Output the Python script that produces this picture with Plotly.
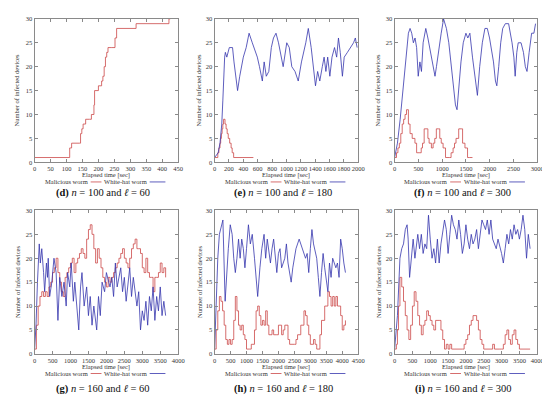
import plotly.graph_objects as go

W, H = 550, 397
RED = "#cc4747"
BLUE = "#3535ad"
SERIF = "Liberation Serif"

# ---------------- data ----------------
# (d) n=100, l=60
d_mal_t = [0, 110, 112, 116, 140, 144, 148, 152, 160, 172, 178, 186, 188, 200, 210, 214, 218, 222, 226, 230, 240, 252, 257, 318, 421, 425]
d_mal_v = [1, 3, 3, 4, 4, 6, 7, 8, 9, 9, 10, 12, 15, 16, 17, 18, 20, 22, 23, 24, 24, 26, 28, 29, 30, 30]
d_wh_t = []
d_wh_v = []

# (e) n=100, l=180
e_mal_t = [0, 45, 60, 75, 85, 95, 105, 115, 125, 145, 160, 175, 190, 210, 230, 245, 265, 540]
e_mal_v = [1, 2, 3, 4, 5, 6, 7, 8, 9, 8, 7, 6, 5, 4, 3, 2, 1, 1]
e_wh_t = [0, 50, 75, 100, 115, 125, 140, 150, 170, 205, 250, 270, 290, 320, 350, 380, 400, 440, 480, 525,
          570, 595, 625, 665, 690, 720, 755, 790, 820, 855, 890, 925, 955, 1005, 1040, 1075, 1120, 1165,
          1210, 1270, 1305, 1345, 1380, 1405, 1435, 1465, 1500, 1525, 1550, 1575, 1605, 1635, 1670, 1700,
          1725, 1750, 1780, 1805, 1850, 1890, 1935, 1960, 1985]
e_wh_v = [1, 2, 4, 8, 13, 18, 22, 23, 22, 24, 24, 21, 18, 15, 18, 21, 22, 24, 27, 25,
          23, 22, 20, 17, 21, 18, 19, 24, 26, 27, 25, 22, 20, 25, 24, 20, 19, 17,
          21, 25, 28, 24, 19, 16, 19, 17, 20, 22, 19, 22, 18, 22, 24, 22,
          26, 23, 18, 22, 23, 24, 25, 26, 24]

# (f) n=100, l=300
f_mal_t = [0, 40, 70, 100, 130, 160, 190, 220, 250, 290, 325, 370, 428, 463, 532, 560, 587, 622, 660, 700,
           726, 774, 810, 845, 878, 920, 950, 981, 1020, 1071, 1150, 1188, 1230, 1260, 1292, 1348, 1400,
           1430, 1480, 1534, 1580, 1638]
f_mal_v = [1, 2, 3, 4, 6, 8, 9, 10, 11, 8, 6, 5, 4, 2, 2, 3, 4, 7, 7, 5,
           4, 3, 4, 5, 7, 7, 5, 4, 3, 1, 1, 2, 3, 4, 5, 7, 7,
           4, 3, 1, 1, 1]
f_wh_t = [0, 60, 117, 173, 200, 242, 290, 325, 360, 395, 430, 463, 497, 532, 565, 600, 656, 700, 753, 800,
          850, 880, 920, 980, 1030, 1090, 1140, 1190, 1237, 1280, 1313, 1350, 1396, 1444, 1500, 1540, 1583,
          1638, 1690, 1742, 1790, 1845, 1900, 1950, 1997, 2040, 2080, 2121, 2150, 2190, 2232, 2274, 2329,
          2398, 2440, 2470, 2509, 2536, 2570, 2600, 2660, 2710, 2750, 2785, 2830, 2882, 2930, 2965]
f_wh_v = [1, 4, 9, 15, 18, 21, 27, 28, 27, 25, 26, 24, 18, 21, 19, 25, 28, 26, 23, 20,
          18, 20, 23, 27, 30, 28, 25, 20, 16, 12, 11, 16, 21, 25, 27, 26, 27,
          22, 18, 14, 20, 25, 28, 28, 26, 23, 21, 17, 16, 20, 25, 28, 29,
          29, 27, 25, 22, 18, 23, 25, 25, 23, 20, 19, 23, 27, 27, 29]

# (g) n=160, l=60
g_mal_t = [0, 50, 100, 150, 200, 250, 300, 350, 400, 450, 500, 550, 600, 650, 700, 750, 800, 850, 900, 950,
           1000, 1050, 1100, 1150, 1200, 1250, 1300, 1350, 1400, 1450, 1500, 1550, 1600, 1650, 1700, 1750,
           1800, 1850, 1900, 1950, 2000, 2050, 2100, 2150, 2200, 2250, 2300, 2350, 2400, 2450, 2500, 2550,
           2600, 2650, 2700, 2750, 2800, 2850, 2900, 2950, 3000, 3050, 3100, 3150, 3200, 3250, 3300, 3350,
           3400, 3450, 3500, 3550, 3600, 3650]
g_mal_v = [1, 6, 10, 12, 13, 12, 13, 12, 14, 15, 17, 18, 20, 17, 15, 13, 12, 16, 17, 18,
           19, 20, 17, 19, 20, 21, 22, 21, 20, 24, 26, 27, 25, 22, 19, 22,
           20, 18, 16, 15, 14, 16, 15, 16, 17, 18, 19, 20, 21, 22, 20, 19,
           18, 20, 22, 23, 24, 22, 22, 21, 18, 17, 20, 17, 16, 16, 13, 16,
           16, 17, 19, 17, 18, 16]
g_wh_t = [0, 40, 80, 130, 160, 200, 250, 280, 330, 360, 380, 420, 480, 540, 600, 650, 700, 760, 820, 880,
          920, 980, 1020, 1080, 1120, 1180, 1230, 1280, 1320, 1380, 1450, 1500, 1550, 1600, 1650, 1730,
          1780, 1830, 1880, 1950, 2000, 2100, 2150, 2200, 2250, 2300, 2400, 2450, 2500, 2550, 2600, 2650,
          2700, 2750, 2850, 2900, 2950, 3000, 3050, 3100, 3150, 3200, 3250, 3300, 3350, 3400, 3450, 3500,
          3550, 3600, 3650]
g_wh_v = [1, 6, 15, 23, 19, 22, 17, 13, 19, 16, 20, 12, 15, 20, 17, 7, 16, 12, 15, 10,
          17, 14, 19, 11, 15, 10, 5, 14, 17, 10, 14, 8, 12, 6, 10, 5,
          12, 8, 15, 13, 17, 14, 16, 12, 19, 14, 18, 13, 16, 11, 14, 18,
          12, 16, 10, 13, 5, 9, 7, 11, 6, 12, 9, 14, 7, 12, 9, 14,
          8, 11, 8]

# (h) n=160, l=180
h_mal_t = [0, 50, 100, 150, 200, 250, 300, 350, 400, 450, 500, 550, 600, 650, 700, 750, 800, 850, 900, 950,
           1000, 1100, 1150, 1200, 1250, 1300, 1350, 1400, 1450, 1500, 1550, 1600, 1650, 1700, 1800, 1850,
           1950, 2000, 2100, 2150, 2200, 2300, 2350, 2500, 2550, 2600, 2700, 2800, 2850, 2900, 2950, 3000,
           3100, 3150, 3200, 3300, 3350, 3450, 3550, 3600, 3650, 3700, 3750, 3800, 3850, 3950, 4000, 4050, 4100]
h_mal_v = [1, 5, 9, 12, 11, 9, 6, 3, 2, 3, 2, 3, 7, 12, 9, 6, 5, 6, 4, 3,
           1, 1, 2, 2, 5, 9, 10, 8, 6, 7, 6, 9, 6, 4, 5, 4,
           4, 6, 4, 5, 6, 3, 2, 2, 3, 4, 6, 9, 8, 6, 4, 2,
           3, 2, 1, 4, 7, 10, 13, 12, 10, 12, 10, 12, 10, 8, 5, 6, 7]
h_wh_t = [0, 60, 100, 150, 230, 260, 330, 380, 430, 490, 550, 600, 650, 700, 750, 800, 850, 900, 950, 1000,
          1060, 1120, 1180, 1250, 1300, 1350, 1420, 1480, 1550, 1600, 1650, 1750, 1800, 1850, 1950, 2000,
          2050, 2100, 2200, 2250, 2300, 2400, 2450, 2550, 2650, 2750, 2850, 2900, 2950, 3000, 3050, 3100,
          3200, 3250, 3300, 3350, 3400, 3450, 3550, 3600, 3650, 3700, 3800, 3850, 3900, 3950, 4000, 4050, 4100]
h_wh_v = [1, 15, 20, 25, 27, 28, 11, 17, 22, 27, 25, 20, 17, 20, 24, 20, 24, 22, 18, 22,
          27, 23, 25, 20, 15, 12, 18, 22, 25, 20, 24, 19, 22, 24, 17, 21,
          22, 18, 20, 23, 19, 15, 18, 22, 24, 22, 20, 21, 17, 22, 26, 23,
          20, 16, 12, 17, 21, 18, 13, 19, 16, 20, 18, 19, 16, 24, 22, 19, 17]

# (i) n=160, l=300
i_mal_t = [0, 50, 80, 110, 150, 200, 250, 300, 350, 400, 450, 500, 550, 600, 650, 700, 750, 800, 850, 900,
           950, 1000, 1050, 1100, 1150, 1250, 1300, 1350, 1400, 1450, 1500, 1550, 1600, 1900, 1950, 2000,
           2050, 2100, 2150, 2200, 2300, 2350, 2400, 2450, 2500, 2700, 2750, 2800, 2950, 3000, 3050, 3100,
           3150, 3200, 3250, 3300, 3350, 3400, 3450, 3500, 3800]
i_mal_v = [1, 2, 5, 10, 16, 14, 11, 8, 5, 3, 6, 10, 13, 11, 8, 6, 4, 6, 7, 9,
           8, 7, 6, 5, 7, 7, 5, 3, 1, 2, 1, 2, 1, 1, 2, 3,
           4, 6, 7, 8, 7, 5, 3, 2, 1, 1, 2, 1, 1, 1, 2, 4,
           5, 3, 2, 4, 5, 3, 2, 1, 1]
i_wh_t = [0, 80, 150, 200, 250, 300, 350, 380, 420, 470, 520, 570, 650, 700, 750, 800, 850, 900, 950, 1000,
          1050, 1100, 1150, 1200, 1250, 1300, 1400, 1450, 1500, 1550, 1600, 1650, 1700, 1750, 1800, 1850,
          1900, 1950, 2000, 2050, 2100, 2150, 2200, 2250, 2300, 2350, 2400, 2450, 2500, 2550, 2600, 2650,
          2700, 2750, 2850, 2900, 3000, 3050, 3100, 3150, 3200, 3250, 3300, 3350, 3400, 3450, 3500, 3550,
          3600, 3650, 3700, 3750, 3800]
i_wh_v = [1, 8, 20, 22, 23, 26, 27, 24, 16, 21, 24, 20, 25, 22, 25, 21, 23, 22, 29, 24,
          20, 22, 19, 24, 19, 23, 28, 26, 21, 25, 29, 27, 26, 24, 28, 25,
          21, 23, 27, 24, 22, 25, 23, 24, 26, 22, 25, 28, 27, 26, 28, 25,
          28, 24, 22, 24, 21, 19, 22, 25, 23, 26, 24, 27, 25, 26, 24, 26,
          29, 26, 20, 25, 22]

labels = ["d", "e", "f", "g", "h", "i"]
n_values = [100, 100, 100, 160, 160, 160]
l_values = [60, 180, 300, 60, 180, 300]
x_max = [450, 2000, 3000, 4000, 4500, 4000]
x_dtick = [50, 200, 500, 500, 500, 500]
mal_t = [d_mal_t, e_mal_t, f_mal_t, g_mal_t, h_mal_t, i_mal_t]
mal_v = [d_mal_v, e_mal_v, f_mal_v, g_mal_v, h_mal_v, i_mal_v]
wh_t = [d_wh_t, e_wh_t, f_wh_t, g_wh_t, h_wh_t, i_wh_t]
wh_v = [d_wh_v, e_wh_v, f_wh_v, g_wh_v, h_wh_v, i_wh_v]

# ---------------- layout geometry (pixels) ----------------
col_px = [(25, 171), (208, 354), (391, 536)]
row_px = [(7, 153), (202, 348)]
ytitle_x = [7, 192, 374]


def fx(p):
    return p / W


def fy(p):
    return 1 - p / H


fig = go.Figure()
annotations = []
shapes = []
axis_common = dict(
    showline=True, linecolor="#8a8a8a", linewidth=1, mirror="ticks",
    ticks="inside", ticklen=3, tickwidth=1, tickcolor="#8a8a8a",
    showgrid=False, zeroline=False, tickangle=0,
    tickfont=dict(family=SERIF, size=6.5, color="#333333"),
)
TXT = dict(family=SERIF, size=6.5, color="#333333")

for k in range(6):
    r, c = divmod(k, 3)
    idx = k + 1
    xa = "x" if idx == 1 else f"x{idx}"
    ya = "y" if idx == 1 else f"y{idx}"
    x0p, x1p = col_px[c]
    y0p, y1p = row_px[r]

    fig.add_trace(go.Scatter(x=mal_t[k], y=mal_v[k], mode="lines", name="Malicious worm",
                             line=dict(color=RED, width=0.8, shape="hv"),
                             xaxis=xa, yaxis=ya, showlegend=False))
    if wh_t[k]:
        fig.add_trace(go.Scatter(x=wh_t[k], y=wh_v[k], mode="lines", name="White-hat worm",
                                 line=dict(color=BLUE, width=0.8, shape="linear"),
                                 xaxis=xa, yaxis=ya, showlegend=False))

    sfx = "" if idx == 1 else str(idx)
    fig.layout["xaxis" + sfx] = dict(domain=[fx(x0p), fx(x1p)], anchor=ya, range=[0, x_max[k]],
                                     tick0=0, dtick=x_dtick[k], **axis_common)
    fig.layout["yaxis" + sfx] = dict(domain=[fy(y1p), fy(y0p)], anchor=xa, range=[0, 30],
                                     tick0=0, dtick=5, **axis_common)

    cx = (x0p + x1p) / 2
    annotations.append(dict(text="Number of infected devices", textangle=-90,
                            x=fx(ytitle_x[c]), y=fy((y0p + y1p) / 2), xref="paper", yref="paper",
                            showarrow=False, xanchor="center", yanchor="middle", font=TXT))
    annotations.append(dict(text="Elapsed time [sec]", x=fx(cx), y=fy(y1p + 13),
                            xref="paper", yref="paper", showarrow=False,
                            xanchor="center", yanchor="middle", font=TXT))
    ky = y1p + 20
    annotations.append(dict(text="Malicious worm", x=fx(cx - 17), y=fy(ky), xref="paper", yref="paper",
                            showarrow=False, xanchor="right", yanchor="middle", font=TXT))
    shapes.append(dict(type="line", xref="paper", yref="paper", x0=fx(cx - 16), x1=fx(cx - 5),
                       y0=fy(ky), y1=fy(ky), line=dict(color=RED, width=0.8)))
    annotations.append(dict(text="White-hat worm", x=fx(cx - 4), y=fy(ky), xref="paper", yref="paper",
                            showarrow=False, xanchor="left", yanchor="middle", font=TXT))
    shapes.append(dict(type="line", xref="paper", yref="paper", x0=fx(cx + 44), x1=fx(cx + 60),
                       y0=fy(ky), y1=fy(ky), line=dict(color=BLUE, width=0.8)))
    cap_y = 184 if r == 0 else 384
    annotations.append(dict(text=f"<b>({labels[k]})</b> <i>n</i> = {n_values[k]} and <i>ℓ</i> = {l_values[k]}",
                            x=fx(cx - 3), y=fy(cap_y), xref="paper", yref="paper", showarrow=False,
                            xanchor="center", yanchor="middle",
                            font=dict(family=SERIF, size=10.5, color="#111111")))

fig.update_layout(width=W, height=H, margin=dict(l=0, r=0, t=0, b=0),
                  paper_bgcolor="white", plot_bgcolor="white",
                  annotations=annotations, shapes=shapes, showlegend=False)

fig.write_html("out.html")
